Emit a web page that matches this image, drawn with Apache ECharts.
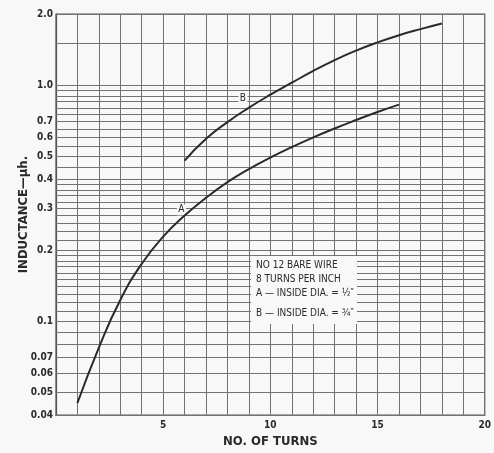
<!DOCTYPE html>
<html>
<head>
<meta charset="utf-8">
<script src="https://cdn.jsdelivr.net/npm/echarts@6/dist/echarts.min.js"></script>
<style>
html,body{margin:0;padding:0;background:#f8f8f8;}
#chart{width:494px;height:453px;}
</style>
</head>
<body>
<div id="chart"></div>
<script>
// Data
var turnsA = [1, 2, 3, 4, 5, 6, 7, 8, 9, 10, 11, 12, 13, 14, 15, 16];
var inductanceA = [0.045, 0.0773, 0.123, 0.175, 0.228, 0.280, 0.333, 0.388, 0.441, 0.493, 0.546, 0.600, 0.655, 0.711, 0.769, 0.826];
var turnsB = [6, 7, 8, 9, 10, 11, 12, 13, 14, 15, 16, 17, 18];
var inductanceB = [0.479, 0.592, 0.697, 0.802, 0.910, 1.023, 1.148, 1.276, 1.400, 1.517, 1.626, 1.726, 1.824];
var xTickLabels = [5, 10, 15, 20];
var yTickValues = [2.0, 1.0, 0.7, 0.6, 0.5, 0.4, 0.3, 0.2, 0.1, 0.07, 0.06, 0.05, 0.04];
var yTickLabels = ['2.0', '1.0', '0.7', '0.6', '0.5', '0.4', '0.3', '0.2', '0.1', '0.07', '0.06', '0.05', '0.04'];
var gridLinesY = [0.04, 0.05, 0.06, 0.07, 0.08, 0.09,
  0.1, 0.11, 0.12, 0.13, 0.14, 0.15, 0.16, 0.17, 0.18, 0.19,
  0.2, 0.22, 0.24, 0.26, 0.28, 0.3, 0.32, 0.34, 0.36, 0.38,
  0.4, 0.45, 0.5, 0.55, 0.6, 0.65, 0.7, 0.75, 0.8, 0.85, 0.9, 0.95,
  1.0, 1.5, 2.0];
var legendLines = ['NO 12 BARE WIRE', '8 TURNS PER INCH', 'A \u2014 INSIDE DIA. = \u00bd\u2033', 'B \u2014 INSIDE DIA. = \u00be\u2033'];
var curveLabelA = {text: 'A', x: 5.85, y: 0.296};
var curveLabelB = {text: 'B', x: 8.72, y: 0.875};

var FONT = '"Liberation Sans Narrow", "DejaVu Sans Condensed", "DejaVu Sans", sans-serif';
var LINE = '#727272';
var INK = '#2a2a2a';
var BG = '#f8f8f8';

function pairs(xs, ys) { return xs.map(function (x, i) { return [x, ys[i]]; }); }

var chart = echarts.init(document.getElementById('chart'), null, {renderer: 'canvas'});

var markLineData = gridLinesY.map(function (v) {
  var idx = -1;
  for (var i = 0; i < yTickValues.length; i++) { if (Math.abs(yTickValues[i] - v) < 1e-9) idx = i; }
  return {
    yAxis: v,
    label: {show: idx >= 0, formatter: idx >= 0 ? yTickLabels[idx] : ''}
  };
});

var option = {
  backgroundColor: BG,
  animation: false,
  grid: {left: 56, top: 14, width: 430, height: 406, show: true, borderColor: '#555', borderWidth: 1.2, backgroundColor: 'transparent'},
  xAxis: {
    type: 'value', min: 0, max: 20, interval: 1,
    name: 'NO. OF TURNS', nameLocation: 'middle', nameGap: 15,
    nameTextStyle: {fontFamily: FONT, fontSize: 13, color: INK, fontWeight: 'bold'},
    axisLine: {show: true, lineStyle: {color: '#555', width: 1.2}},
    axisTick: {show: false},
    axisLabel: {
      margin: 5, fontFamily: FONT, fontSize: 10, color: INK, fontWeight: 'bold',
      formatter: function (v) { return xTickLabels.indexOf(v) >= 0 ? String(v) : ''; }
    },
    splitLine: {show: true, lineStyle: {color: LINE, width: 1}}
  },
  yAxis: {
    type: 'log', logBase: 10, min: 0.04, max: 2,
    name: 'INDUCTANCE\u2014\u03bch.', nameLocation: 'middle', nameGap: 26, nameRotate: 90,
    nameTextStyle: {fontFamily: FONT, fontSize: 13, color: INK, fontWeight: 'bold'},
    axisLine: {show: true, lineStyle: {color: '#555', width: 1.2}},
    axisTick: {show: false},
    axisLabel: {show: false},
    splitLine: {show: false}
  },
  series: [
    {
      name: 'A', type: 'line', smooth: true, showSymbol: false, silent: true,
      data: pairs(turnsA, inductanceA),
      lineStyle: {color: INK, width: 2},
      z: 5,
      markLine: {
        silent: true, symbol: 'none', animation: false,
        lineStyle: {color: LINE, width: 1, type: 'solid'},
        label: {position: 'start', distance: 3, fontFamily: FONT, fontSize: 10, color: INK, fontWeight: 'bold'},
        emphasis: {disabled: true},
        data: markLineData
      },
      markPoint: {
        silent: true, symbol: 'rect', symbolSize: [9, 11],
        itemStyle: {color: BG},
        label: {show: true, position: 'inside', fontFamily: FONT, fontSize: 10, color: INK, formatter: '{b}'},
        data: [{name: curveLabelA.text, coord: [curveLabelA.x, curveLabelA.y]}]
      }
    },
    {
      name: 'B', type: 'line', smooth: true, showSymbol: false, silent: true,
      data: pairs(turnsB, inductanceB),
      lineStyle: {color: INK, width: 2},
      z: 5,
      markPoint: {
        silent: true, symbol: 'rect', symbolSize: [9, 11],
        itemStyle: {color: BG},
        label: {show: true, position: 'inside', fontFamily: FONT, fontSize: 10, color: INK, formatter: '{b}'},
        data: [{name: curveLabelB.text, coord: [curveLabelB.x, curveLabelB.y]}]
      }
    }
  ],
  graphic: [
    {type: 'rect', left: 251, top: 256, z: 100, zlevel: 0, shape: {width: 106, height: 68}, style: {fill: BG}},
    {type: 'text', left: 256, top: 260, z: 101, style: {text: legendLines[0], font: '10px ' + FONT, fill: INK}},
    {type: 'text', left: 256, top: 274, z: 101, style: {text: legendLines[1], font: '10px ' + FONT, fill: INK}},
    {type: 'text', left: 256, top: 288, z: 101, style: {text: legendLines[2], font: '10px ' + FONT, fill: INK}},
    {type: 'text', left: 256, top: 308, z: 101, style: {text: legendLines[3], font: '10px ' + FONT, fill: INK}}
  ]
};
chart.setOption(option);
</script>
</body>
</html>
